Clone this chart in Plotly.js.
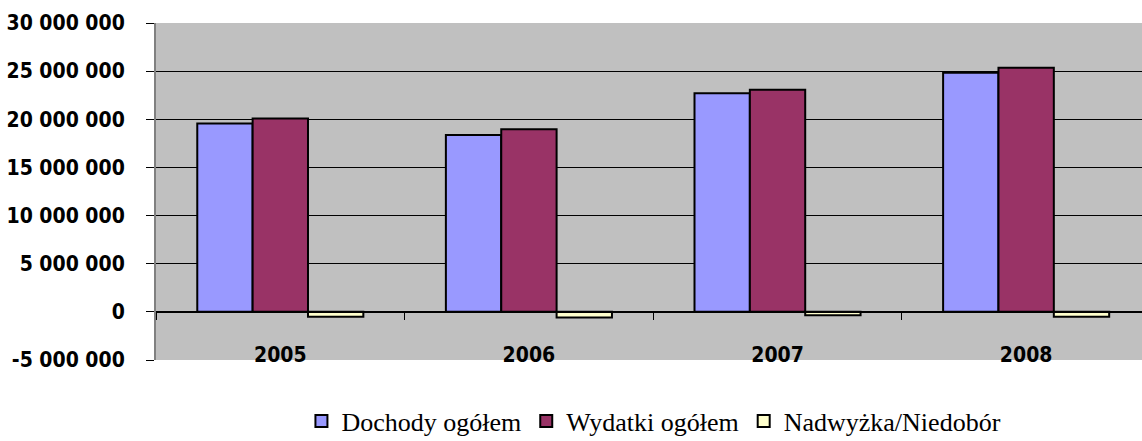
<!DOCTYPE html>
<html>
<head>
<meta charset="utf-8">
<script src="https://cdn.plot.ly/plotly-3.0.1.min.js"></script>
<style>
html,body{margin:0;padding:0;background:#fff;overflow:hidden;}
#chart{width:1142px;height:441px;}
</style>
</head>
<body>
<div id="chart"></div>
<script>
// ---- data ----
var years = ['2005', '2006', '2007', '2008'];
var dochody = [19550000, 18370000, 22710000, 24830000];
var wydatki = [20070000, 18960000, 23060000, 25350000];
var nadwyzka = [-520000, -590000, -350000, -520000];
var seriesNames = ['Dochody ogółem', 'Wydatki ogółem', 'Nadwyżka/Niedobór'];
var yTickValues = [-5000000, 0, 5000000, 10000000, 15000000, 20000000, 25000000, 30000000];
var yTickLabels = ['-5 000 000', '0', '5 000 000', '10 000 000', '15 000 000', '20 000 000', '25 000 000', '30 000 000'];

var colors = ['#9999FF', '#993366', '#FFFFCC'];
var values = [dochody, wydatki, nadwyzka];

var traces = values.map(function (v, i) {
  return {
    type: 'bar',
    x: years,
    y: v,
    name: seriesNames[i],
    marker: {color: colors[i], line: {color: '#000000', width: 2}},
    hoverinfo: 'skip'
  };
});

var tickFont = {family: '"DejaVu Sans Condensed", "DejaVu Sans", sans-serif', size: 21, color: '#000', weight: 'bold'};

var layout = {
  width: 1142,
  height: 441,
  margin: {l: 156, r: 0, t: 23, b: 81, pad: 0, autoexpand: false},
  paper_bgcolor: '#FFFFFF',
  plot_bgcolor: '#C0C0C0',
  barmode: 'group',
  bargap: 0.332,
  bargroupgap: 0,
  showlegend: true,
  legend: {
    orientation: 'h',
    xref: 'paper', x: 0.505, xanchor: 'center',
    yref: 'container', y: 0.045, yanchor: 'middle',
    font: {family: '"Liberation Serif", "Times New Roman", serif', size: 26, color: '#000'},
    bgcolor: 'rgba(0,0,0,0)'
  },
  xaxis: {
    type: 'category',
    range: [-0.5, 3.466],
    anchor: 'free',
    position: 5 / 35,
    automargin: false,
    showline: true, linecolor: '#000', linewidth: 1,
    showgrid: false, zeroline: false,
    ticks: 'outside', tickson: 'boundaries', ticklen: 7, tickcolor: '#000', tickwidth: 1,
    tickfont: tickFont,
    ticklabelstandoff: 24
  },
  xaxis2: {
    matches: 'x',
    overlaying: 'x',
    anchor: 'y',
    side: 'bottom',
    automargin: false,
    showline: true, mirror: true, linecolor: '#808080', linewidth: 2,
    showgrid: false, zeroline: false,
    ticks: '', showticklabels: false
  },
  yaxis: {
    range: [-5000000, 30000000],
    tickvals: yTickValues,
    ticktext: yTickLabels,
    automargin: false,
    showgrid: true, gridcolor: '#000', gridwidth: 1,
    zeroline: false,
    showline: true, linecolor: '#808080', linewidth: 2,
    ticks: 'outside', ticklen: 8, tickcolor: '#000', tickwidth: 1,
    tickfont: tickFont,
    ticklabelstandoff: 17
  }
};

Plotly.newPlot('chart', traces, layout, {staticPlot: true, displayModeBar: false});
</script>
</body>
</html>
